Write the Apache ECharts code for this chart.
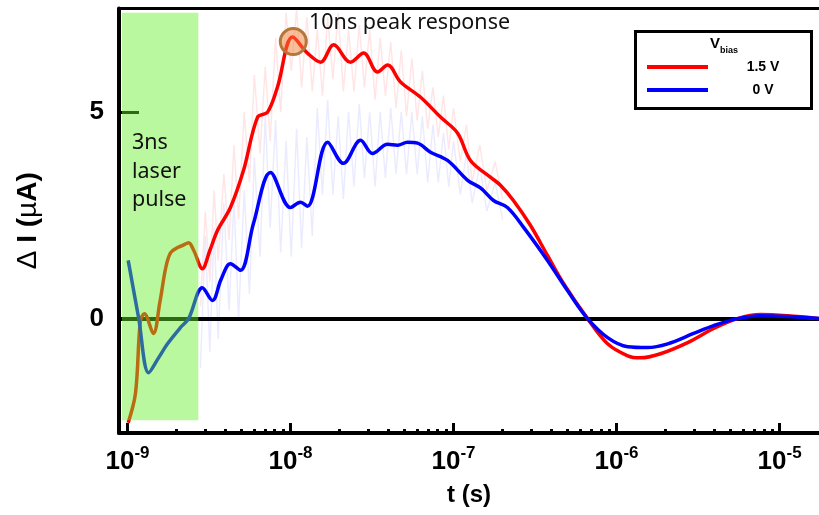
<!DOCTYPE html>
<html>
<head>
<meta charset="utf-8">
<script src="https://cdn.jsdelivr.net/npm/echarts@6/dist/echarts.min.js"></script>
<style>
  html, body {margin: 0; background: #fff;}
  #chart {width: 819px; height: 515px;}
</style>
</head>
<body>
<div id="chart"></div>
<script>
// smoothed traces, t in seconds, current in uA
const redTime = [1.01e-9, 1.12e-9, 1.20e-9, 1.27e-9, 1.44e-9, 1.58e-9, 1.72e-9, 1.84e-9, 2.03e-9, 2.2e-9, 2.37e-9, 2.55e-9, 2.88e-9,
  3.2e-9, 3.57e-9, 4.28e-9, 5.15e-9, 6.28e-9, 7.23e-9, 8.32e-9, 1.03e-8, 1.27e-8, 1.53e-8, 1.84e-8, 2.33e-8, 2.81e-8,
  3.42e-8, 3.94e-8, 4.73e-8, 6.28e-8, 8.32e-8, 1.06e-7, 1.27e-7, 1.69e-7, 1.94e-7, 2.33e-7, 2.96e-7, 3.77e-7, 4.73e-7,
  6.64e-7, 8.81e-7, 1.17e-6, 1.40e-6, 1.86e-6, 2.73e-6, 3.94e-6, 5.52e-6, 7.64e-6, 1.12e-5, 1.76e-5]
const redCurrent = [-2.52, -1.8, -0.05, 0.12, -0.36, 0.4, 1.25, 1.6, 1.72, 1.78, 1.84, 1.65, 1.21,
  1.65, 2.14, 2.69, 3.59, 4.88, 5.0, 5.61, 6.82, 6.43, 6.21, 6.63, 6.21, 6.43,
  5.97, 6.14, 5.73, 5.36, 4.88, 4.49, 3.83, 3.42, 3.23, 2.86, 2.26, 1.53, 0.85,
  0, -0.61, -0.90, -0.95, -0.85, -0.58, -0.24, 0, 0.10, 0.07, 0]

const blueTime = [1.01e-9, 1.17e-9, 1.35e-9, 1.55e-9, 1.76e-9, 2.11e-9, 2.37e-9, 2.88e-9, 3.32e-9, 3.75e-9, 4.28e-9, 4.93e-9,
  5.93e-9, 7.54e-9, 1.0e-8, 1.15e-8, 1.27e-8, 1.69e-8, 2.11e-8, 2.69e-8, 3.18e-8, 3.94e-8, 4.53e-8, 5.22e-8, 6.01e-8,
  7.22e-8, 9.19e-8, 1.22e-7, 1.47e-7, 1.76e-7, 2.14e-7, 2.69e-7, 3.77e-7, 5.0e-7, 6.64e-7, 8.81e-7, 1.17e-6, 1.55e-6,
  2.06e-6, 2.97e-6, 3.94e-6, 5.52e-6, 7.64e-6, 1.12e-5, 1.76e-5]
const blueCurrent = [1.41, 0.02, -1.31, -0.95, -0.61, -0.22, 0, 0.75, 0.44, 0.95, 1.33, 1.17,
  2.31, 3.54, 2.69, 2.82, 2.72, 4.27, 3.76, 4.32, 4.0, 4.22, 4.20, 4.27, 4.25,
  4.03, 3.83, 3.35, 3.16, 2.86, 2.69, 2.21, 1.41, 0.68, 0, -0.46, -0.68, -0.70,
  -0.61, -0.36, -0.17, 0, 0.07, 0.05, 0]

// raw (noisy) traces shown faintly behind
const rawTime = [2.8e-9, 3.0e-9, 3.2e-9, 3.4e-9, 3.6e-9, 3.9e-9, 4.2e-9, 4.5e-9, 4.8e-9, 5.2e-9, 5.6e-9, 6.0e-9, 6.5e-9,
  7.0e-9, 7.5e-9, 8.1e-9, 8.7e-9, 9.4e-9, 1.01e-8, 1.09e-8, 1.17e-8, 1.26e-8, 1.36e-8, 1.46e-8, 1.57e-8, 1.69e-8,
  1.82e-8, 1.96e-8, 2.11e-8, 2.27e-8, 2.45e-8, 2.64e-8, 2.84e-8, 3.06e-8, 3.3e-8, 3.55e-8, 3.82e-8, 4.12e-8, 4.44e-8,
  4.78e-8, 5.15e-8, 5.55e-8, 5.98e-8, 6.44e-8, 6.94e-8, 7.48e-8, 8.06e-8, 8.68e-8, 9.35e-8, 1.0e-7, 1.1e-7, 1.2e-7,
  1.3e-7, 1.45e-7, 1.6e-7, 1.8e-7, 2.0e-7]
const rawRed = [0.3, 2.6, 0.9, 3.1, 1.4, 3.5, 1.9, 4.2, 2.4, 5.0, 3.3, 5.9, 4.0, 6.1, 4.3, 6.8, 5.0, 7.4, 6.0, 7.5,
  5.6, 7.3, 5.5, 7.0, 5.4, 7.3, 5.8, 7.4, 5.5, 7.0, 5.5, 7.1, 5.6, 7.0, 5.3, 6.8, 5.4, 6.7, 5.1, 6.5, 4.9, 6.3,
  4.8, 6.0, 4.6, 5.6, 4.4, 5.4, 4.1, 5.1, 3.8, 4.7, 3.3, 4.2, 3.1, 3.8, 2.9]
const rawBlue = [-1.2, 2.0, -0.8, 2.2, -0.5, 2.8, 0.2, 2.9, 0.0, 3.1, 0.6, 3.9, 1.5, 4.9, 2.2, 4.8, 1.6, 4.3, 1.5, 4.6,
  1.7, 4.4, 2.0, 5.1, 3.0, 5.3, 3.0, 4.9, 2.9, 5.0, 3.2, 5.2, 3.4, 5.0, 3.2, 5.0, 3.4, 5.1, 3.5, 5.0, 3.5, 5.0,
  3.5, 4.9, 3.3, 4.7, 3.3, 4.5, 3.2, 4.3, 3.0, 4.0, 2.8, 3.7, 2.6, 3.3, 2.4]

const majorTicks = [1e-9, 1e-8, 1e-7, 1e-6, 1e-5]
const minorSteps = [2, 3, 4, 5, 6, 7, 8, 9]
const yTicks = [0, 5]
const pulseWindow = [9.25e-10, 2.72e-9]   // 3ns laser pulse
const pulseRange = [-2.46, 7.41]
const peakPoint = [1.04e-8, 6.71]

const xMin = 8.87e-10, xMax = 1.745e-5
const yMin = -2.77, yMax = 7.51

const minorTicks = []
majorTicks.forEach(d => minorSteps.forEach(m => minorTicks.push(d * m)))

const pairs = (xs, ys) => xs.map((x, i) => [x, ys[i]])
const boldFont = '"Liberation Sans", Arial, sans-serif'
const noteFont = '"Noto Sans", sans-serif'

const chart = echarts.init(document.getElementById('chart'))

const logAxis = extra => Object.assign({
  type: 'log', min: xMin, max: xMax, gridIndex: 0,
  splitLine: {show: false}, minorSplitLine: {show: false},
  axisLine: {onZero: false, lineStyle: {color: '#000', width: 4}},
  axisTick: {show: false}, axisLabel: {show: false}
}, extra)

chart.setOption({
  animation: false,
  grid: {left: 119, right: 0, top: 8.5, bottom: 82},
  xAxis: [
    logAxis({
      position: 'bottom',
      axisTick: {show: true, inside: true, length: 10, customValues: majorTicks, lineStyle: {color: '#000', width: 3}},
      axisLabel: {
        show: true, customValues: majorTicks, margin: 12,
        formatter: v => '{b|10}{e|' + Math.round(Math.log10(v)) + '}',
        rich: {
          b: {fontSize: 26, fontWeight: 'bold', fontFamily: boldFont, color: '#000', lineHeight: 34},
          e: {fontSize: 17, fontWeight: 'bold', fontFamily: boldFont, color: '#000', verticalAlign: 'top', lineHeight: 17}
        }
      },
      name: 't (s)', nameLocation: 'middle', nameGap: 50,
      nameTextStyle: {fontSize: 24, fontWeight: 'bold', fontFamily: boldFont, color: '#000', verticalAlign: 'top'}
    }),
    logAxis({
      position: 'bottom',
      axisLine: {show: false, onZero: false},
      axisTick: {show: true, inside: true, length: 4, customValues: minorTicks, lineStyle: {color: '#000', width: 3}}
    }),
    logAxis({
      position: 'top',
      axisLine: {onZero: false, lineStyle: {color: '#000', width: 3}}
    })
  ],
  yAxis: {
    type: 'value', min: yMin, max: yMax,
    splitLine: {show: false},
    axisLine: {show: true, onZero: false, lineStyle: {color: '#000', width: 4}},
    axisTick: {show: true, inside: true, length: 20, customValues: yTicks, lineStyle: {color: '#000', width: 3}},
    axisLabel: {customValues: yTicks, fontSize: 26, fontWeight: 'bold', fontFamily: boldFont, color: '#000', margin: 15},
    name: '{n|Δ}{b| I (}{n|µ}{b|A)}', nameLocation: 'middle', nameGap: 77, nameRotate: 90,
    nameTextStyle: {
      rich: {
        b: {fontSize: 28, fontWeight: 'bold', fontFamily: boldFont, color: '#000'},
        n: {fontSize: 28, fontFamily: boldFont, color: '#000'}
      }
    }
  },
  legend: {
    data: ['1.5 V', '0 V'], orient: 'vertical', left: 647, top: 60, padding: 0,
    itemWidth: 61, itemHeight: 4, itemGap: 9, icon: 'rect',
    formatter: n => '{a|' + n + '}',
    textStyle: {rich: {a: {width: 100, align: 'center', fontSize: 14, fontWeight: 'bold', fontFamily: boldFont, color: '#000', lineHeight: 16}}}
  },
  graphic: [
    {type: 'rect', left: 633, top: 29, z: 5, silent: true,
      shape: {width: 176, height: 77}, style: {fill: 'none', stroke: '#000', lineWidth: 3}},
    {type: 'text', left: 710, top: 36, z: 20, silent: true,
      style: {text: '{v|V}{s|bias}', rich: {
        v: {fontSize: 15, fontWeight: 'bold', fontFamily: boldFont, fill: '#000'},
        s: {fontSize: 9, fontWeight: 'bold', fontFamily: boldFont, fill: '#000', verticalAlign: 'bottom', padding: [0, 0, -4, 0]}
      }}},
    {type: 'text', left: 309, top: 12, z: 20, silent: true,
      style: {text: '10ns peak response', font: '21.5px ' + noteFont, fill: '#111'}},
    {type: 'text', left: 132, top: 129, z: 20, silent: true,
      style: {text: '3ns\nlaser\npulse', font: '21.5px ' + noteFont, fill: '#111', lineHeight: 28.5}}
  ],
  series: [
    {
      name: 'raw 1.5 V', type: 'line', z: 2, silent: true, symbol: 'none',
      data: pairs(rawTime, rawRed),
      lineStyle: {color: 'rgba(255,0,0,0.1)', width: 1.5}
    },
    {
      name: 'raw 0 V', type: 'line', z: 2, silent: true, symbol: 'none',
      data: pairs(rawTime, rawBlue),
      lineStyle: {color: 'rgba(0,0,255,0.08)', width: 1.5}
    },
    {
      name: '1.5 V', type: 'line', z: 3, silent: true, symbol: 'none', smooth: 0.35,
      data: pairs(redTime, redCurrent),
      itemStyle: {color: '#ff0000'},
      lineStyle: {color: '#ff0000', width: 3.5},
      markArea: {
        z: 10, silent: true,
        itemStyle: {color: 'rgba(100,240,40,0.45)'},
        data: [[{coord: [pulseWindow[0], pulseRange[0]]}, {coord: [pulseWindow[1], pulseRange[1]]}]]
      },
      markPoint: {
        z: 11, silent: true, symbol: 'circle', symbolSize: 26,
        itemStyle: {color: 'rgba(240,130,60,0.5)', borderColor: '#b5763a', borderWidth: 3},
        label: {show: false},
        data: [{coord: peakPoint}]
      }
    },
    {
      name: '0 V', type: 'line', z: 3, silent: true, symbol: 'none', smooth: 0.35,
      data: pairs(blueTime, blueCurrent),
      itemStyle: {color: '#0000ff'},
      lineStyle: {color: '#0000ff', width: 3.5},
      markLine: {
        z: 1, silent: true, symbol: 'none', label: {show: false},
        lineStyle: {color: '#000', width: 4, type: 'solid'},
        data: [{yAxis: 0}]
      }
    }
  ]
})
</script>
</body>
</html>
